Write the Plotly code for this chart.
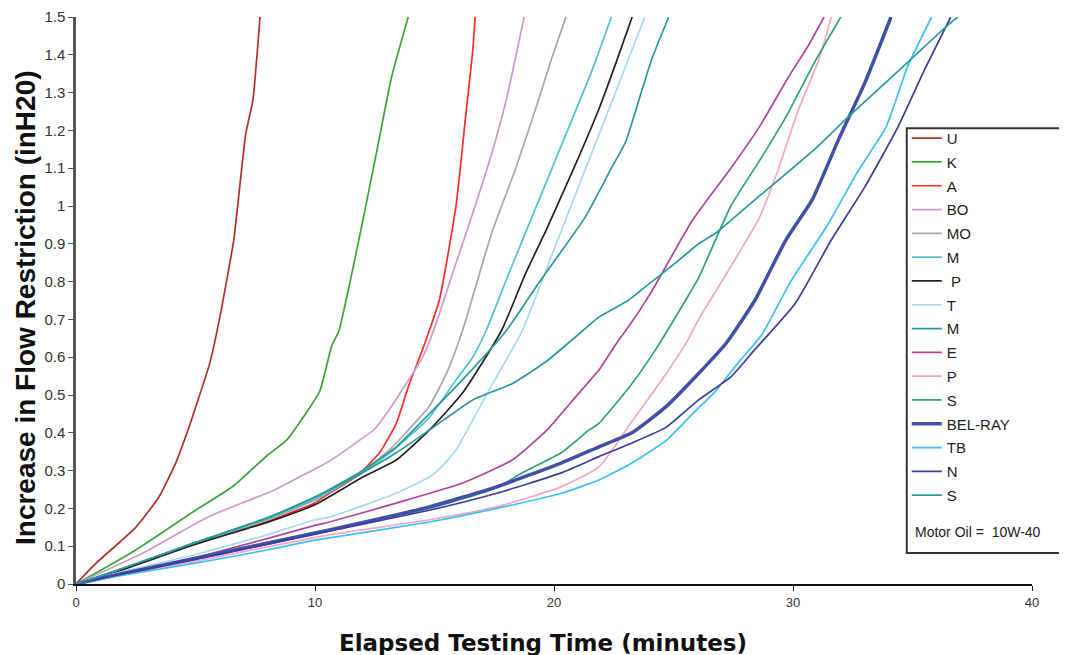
import plotly.graph_objects as go

# ---- data ----
names = ["U", "K", "A", "BO", "MO", "M", " P", "T", "M", "E", "P", "S", "BEL-RAY", "TB", "N", "S"]

u_x = [0, 0.84, 2.5, 3.47, 4.17, 4.7, 5.6, 6.0, 6.6, 7.1, 7.4, 7.7]
u_y = [0, 0.055, 0.15, 0.23, 0.32, 0.41, 0.585, 0.70, 0.91, 1.19, 1.28, 1.5]

k_x = [0, 1.0, 2.5, 5.0, 6.6, 8.0, 8.8, 9.6, 10.2, 10.7, 11.0, 11.9, 12.6, 13.2, 13.9]
k_y = [0, 0.035, 0.09, 0.195, 0.26, 0.34, 0.38, 0.45, 0.51, 0.63, 0.67, 0.93, 1.15, 1.34, 1.5]

a_x = [0, 1.67, 5.0, 8.0, 10.0, 10.6, 11.7, 12.7, 13.4, 13.95, 14.5, 14.78, 15.2, 15.9, 16.3, 16.6, 16.7]
a_y = [0, 0.033, 0.106, 0.165, 0.215, 0.24, 0.283, 0.347, 0.425, 0.53, 0.62, 0.67, 0.75, 1.0, 1.235, 1.41, 1.5]

bo_x = [0, 2.8, 5.55, 8.35, 9.35, 10.6, 11.86, 12.5, 13.2, 14.5, 15.0, 15.8, 16.7, 17.4, 18.0, 18.75]
bo_y = [0, 0.082, 0.178, 0.25, 0.283, 0.325, 0.38, 0.41, 0.47, 0.60, 0.677, 0.83, 1.0, 1.14, 1.28, 1.5]

mo_x = [0, 1.67, 5.0, 8.0, 10.0, 11.86, 13.2, 13.8, 14.78, 15.5, 16.17, 17.4, 18.4, 19.4, 19.9, 20.5]
mo_y = [0, 0.034, 0.108, 0.17, 0.222, 0.29, 0.36, 0.40, 0.47, 0.557, 0.67, 0.93, 1.10, 1.29, 1.39, 1.5]

mc_x = [0, 1.67, 5.0, 8.0, 10.0, 11.86, 13.2, 14.78, 15.9, 16.6, 17.16, 18.1, 19.4, 20.5, 21.6, 22.4]
mc_y = [0, 0.034, 0.108, 0.172, 0.225, 0.29, 0.35, 0.44, 0.54, 0.60, 0.67, 0.82, 1.02, 1.19, 1.36, 1.5]

pb_x = [0, 1.67, 5.0, 8.0, 10.0, 12.0, 13.4, 14.78, 16.17, 17.8, 18.8, 19.7, 20.9, 21.9, 22.6, 23.27]
pb_y = [0, 0.032, 0.105, 0.163, 0.21, 0.283, 0.328, 0.407, 0.505, 0.67, 0.82, 0.94, 1.11, 1.26, 1.38, 1.5]

t_x = [0, 1.67, 5.0, 8.0, 10.0, 10.6, 13.4, 14.78, 15.3, 15.9, 17.3, 18.67, 20.0, 21.3, 22.6, 23.8]
t_y = [0, 0.028, 0.078, 0.13, 0.17, 0.177, 0.24, 0.283, 0.31, 0.355, 0.515, 0.67, 0.885, 1.095, 1.305, 1.5]

mt_x = [0, 1.67, 5.0, 8.0, 10.0, 11.86, 13.4, 14.78, 16.17, 18.0, 19.4, 21.3, 22.4, 23.0, 23.55, 24.1, 24.8]
mt_y = [0, 0.035, 0.11, 0.175, 0.23, 0.295, 0.363, 0.45, 0.54, 0.67, 0.80, 0.97, 1.10, 1.17, 1.28, 1.39, 1.5]

e_x = [0, 1.67, 5.0, 8.0, 10.0, 10.6, 13.4, 16.17, 18.25, 19.7, 21.04, 21.88, 22.7, 23.0, 24.0, 25.8, 27.4, 28.6, 29.8, 30.6, 31.3]
e_y = [0, 0.025, 0.07, 0.12, 0.155, 0.164, 0.214, 0.267, 0.328, 0.407, 0.505, 0.566, 0.645, 0.67, 0.765, 0.963, 1.10, 1.21, 1.34, 1.42, 1.5]

pp_x = [0, 1.67, 5.0, 8.0, 10.6, 14.78, 17.6, 20.3, 21.88, 23.26, 24.7, 25.6, 26.05, 27.4, 28.6, 29.4, 30.2, 31.1, 31.6]
pp_y = [0, 0.022, 0.06, 0.098, 0.13, 0.17, 0.204, 0.257, 0.31, 0.43, 0.557, 0.645, 0.70, 0.84, 0.97, 1.10, 1.25, 1.39, 1.5]

sg_x = [0, 1.67, 5.0, 8.0, 10.6, 14.78, 17.6, 18.67, 20.3, 21.46, 21.88, 23.26, 24.25, 25.5, 26.05, 27.4, 28.6, 29.7, 30.9, 32.0]
sg_y = [0, 0.024, 0.068, 0.11, 0.143, 0.2, 0.255, 0.294, 0.347, 0.407, 0.425, 0.53, 0.62, 0.75, 0.81, 1.0, 1.12, 1.235, 1.38, 1.5]

br_x = [0, 1.67, 5.0, 8.0, 10.6, 14.78, 17.6, 20.3, 21.88, 23.26, 24.7, 26.05, 27.2, 28.4, 29.7, 30.8, 31.9, 33.0, 34.1]
br_y = [0, 0.024, 0.068, 0.108, 0.143, 0.204, 0.257, 0.32, 0.363, 0.40, 0.47, 0.557, 0.637, 0.75, 0.91, 1.016, 1.175, 1.325, 1.5]

tb_x = [0, 1.67, 5.0, 8.0, 10.0, 14.78, 17.6, 20.3, 21.88, 23.26, 24.7, 25.8, 26.8, 27.7, 28.7, 29.9, 31.4, 32.7, 33.9, 34.8, 35.8]
tb_y = [0, 0.02, 0.055, 0.09, 0.116, 0.164, 0.2, 0.24, 0.275, 0.32, 0.38, 0.45, 0.513, 0.585, 0.66, 0.80, 0.945, 1.09, 1.21, 1.37, 1.5]

n_x = [0, 1.67, 5.0, 8.0, 10.6, 14.78, 17.6, 20.3, 21.88, 23.26, 24.7, 26.05, 27.4, 28.4, 30.1, 31.6, 33.0, 34.4, 35.5, 36.6]
n_y = [0, 0.023, 0.065, 0.105, 0.14, 0.195, 0.24, 0.294, 0.337, 0.373, 0.415, 0.487, 0.548, 0.62, 0.743, 0.91, 1.05, 1.21, 1.36, 1.5]

st_x = [0, 1.67, 5.0, 8.0, 10.0, 11.86, 13.4, 14.78, 16.6, 18.25, 19.7, 21.2, 21.88, 23.1, 23.7, 25.1, 26.05, 26.8, 28.4, 30.9, 32.3, 34.9, 36.5, 36.9]
st_y = [0, 0.035, 0.11, 0.175, 0.23, 0.29, 0.347, 0.407, 0.487, 0.53, 0.59, 0.67, 0.706, 0.75, 0.78, 0.85, 0.90, 0.93, 1.016, 1.15, 1.235, 1.386, 1.48, 1.5]

xs = [u_x, k_x, a_x, bo_x, mo_x, mc_x, pb_x, t_x, mt_x, e_x, pp_x, sg_x, br_x, tb_x, n_x, st_x]
ys = [u_y, k_y, a_y, bo_y, mo_y, mc_y, pb_y, t_y, mt_y, e_y, pp_y, sg_y, br_y, tb_y, n_y, st_y]

colors = ["#B22E2E", "#3AA43A", "#FF2A2A", "#CC9ACC", "#A8A8A8", "#4CC4D4", "#222222", "#A8D8F4",
          "#2A9A98", "#B0449E", "#F4A6C4", "#2EA27A", "#4150A6", "#3CC0F0", "#3C3C9C", "#2A9A98"]
widths = [1.7] * 16
widths[12] = 3.5

x_ticks = [0, 10, 20, 30, 40]

fig = go.Figure()
for i, (nm, x, y, c, w) in enumerate(zip(names, xs, ys, colors, widths)):
    fig.add_trace(go.Scatter(x=x, y=y, name=nm, mode="lines", legendgroup="g%d" % i,
                             line=dict(color=c, width=w, shape="spline", smoothing=0.5)))

# the page body adds an 8px offset, margins compensate for it
fig.update_layout(
    width=1067, height=655,
    margin=dict(l=68, r=43, t=9, b=79, autoexpand=False),
    paper_bgcolor="white", plot_bgcolor="white",
    font=dict(family="Liberation Sans, Arial, sans-serif", color="#333333"),
    showlegend=True,
    legend=dict(x=0.869, y=0.815, xanchor="left", yanchor="top",
                bgcolor="rgba(255,255,255,0)", borderwidth=0,
                font=dict(size=15, color="#222222"), tracegroupgap=1.3),
    xaxis=dict(range=[0, 40], tickvals=x_ticks, showgrid=False, zeroline=False, automargin=False,
               showline=True, linecolor="#111111", linewidth=2,
               ticks="outside", ticklen=5, tickcolor="#111111",
               tickfont=dict(size=13, color="#333333")),
    yaxis=dict(range=[0, 1.5], dtick=0.1, showgrid=False, zeroline=False, automargin=False,
               showline=True, linecolor="#555555", linewidth=2.5,
               ticks="outside", ticklen=5, tickcolor="#555555",
               tickfont=dict(size=15, color="#333333")),
)

fig.add_annotation(xref="paper", yref="paper", x=(543 - 76) / 956, y=(584 - 643) / 567,
                   xanchor="center", yanchor="middle", showarrow=False,
                   text="<b>Elapsed Testing Time (minutes)</b>",
                   font=dict(family="DejaVu Sans, sans-serif", size=23, color="#111111"))
fig.add_annotation(xref="paper", yref="paper", x=(25 - 76) / 956, y=(584 - 308) / 567,
                   xanchor="center", yanchor="middle", showarrow=False, textangle=-90,
                   text="<b>Increase in Flow Restriction (inH20)</b>",
                   font=dict(family="Liberation Sans, Arial, sans-serif", size=28, color="#111111"))

fig.add_shape(type="rect", xref="paper", yref="paper",
              x0=0.869, x1=1.0335, y0=0.0547, y1=0.804,
              line=dict(color="#333333", width=2), fillcolor="rgba(0,0,0,0)")
fig.add_annotation(xref="paper", yref="paper", x=0.8755, y=0.0917,
                   xanchor="left", yanchor="middle", showarrow=False,
                   text="Motor Oil =  10W-40", font=dict(size=14, color="#222222"))

fig.write_html("out.html")
